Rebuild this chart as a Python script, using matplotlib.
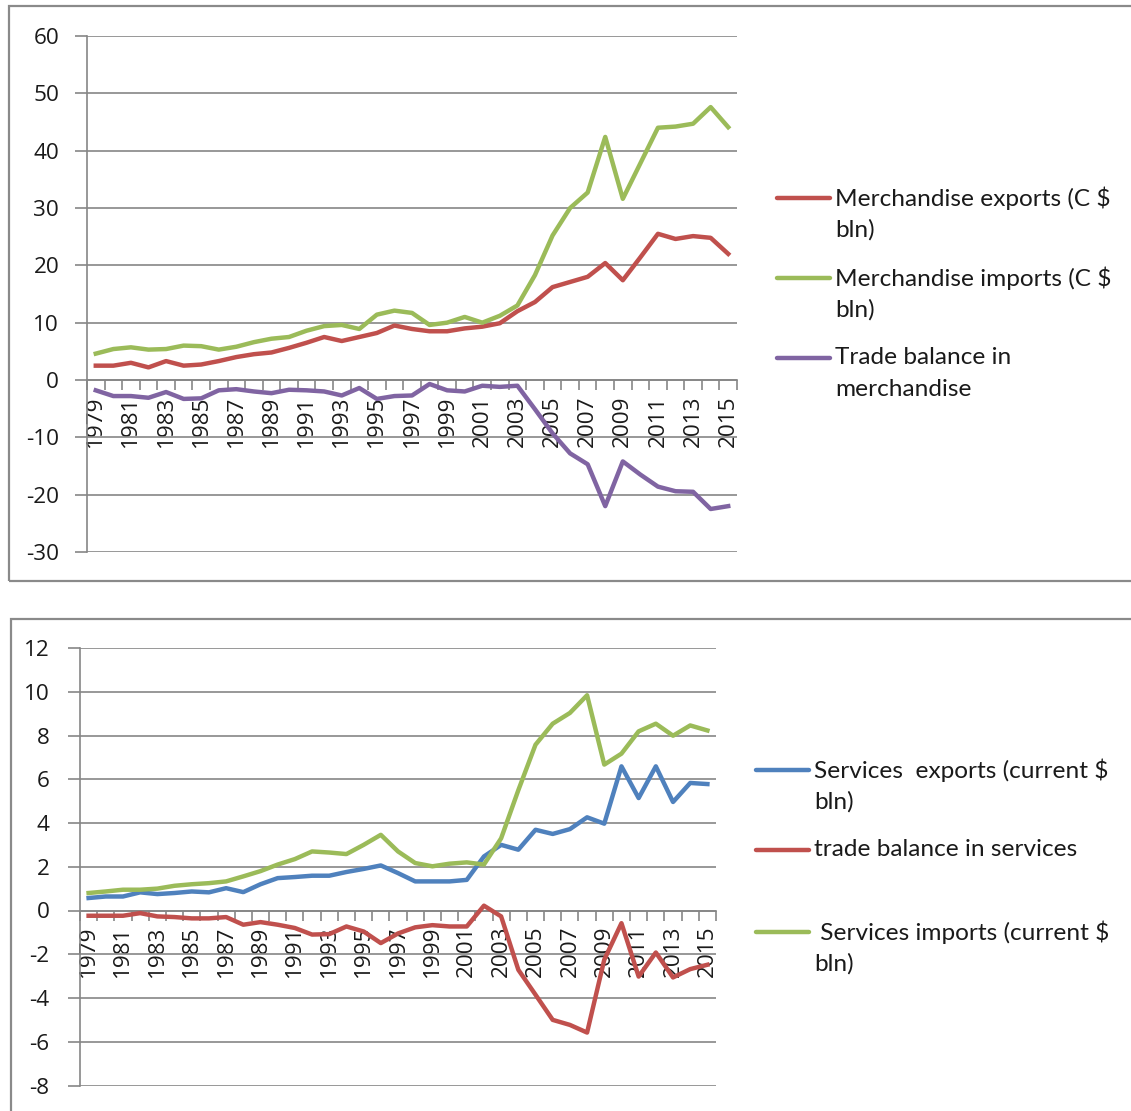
import matplotlib
matplotlib.use("Agg")
import matplotlib.pyplot as plt
import numpy as np
from matplotlib.lines import Line2D
from matplotlib.patches import Rectangle

plt.rcParams['font.family'] = ['Lato', 'DejaVu Sans']
plt.rcParams['axes.unicode_minus'] = False

years = list(range(1979, 2016))

# merchandise trade, C $ bln
merch_exports = [2.5, 2.5, 3.0, 2.2, 3.3, 2.5, 2.7, 3.3, 4.0, 4.5, 4.8, 5.6, 6.5, 7.5, 6.8, 7.5, 8.2, 9.5,
                 8.9, 8.5, 8.5, 9.0, 9.3, 9.9, 12.0, 13.6, 16.2, 17.1, 18.0, 20.4, 17.4, 21.4, 25.5, 24.6,
                 25.1, 24.8, 22.0]
merch_imports = [4.6, 5.4, 5.7, 5.3, 5.4, 6.0, 5.9, 5.3, 5.8, 6.6, 7.2, 7.5, 8.6, 9.4, 9.6, 8.9, 11.4, 12.1,
                 11.7, 9.6, 10.0, 11.0, 10.0, 11.2, 13.0, 18.3, 25.2, 30.0, 32.7, 42.4, 31.6, 37.8, 44.0,
                 44.2, 44.7, 47.6, 44.1]
merch_balance = [-1.8, -2.8, -2.8, -3.1, -2.1, -3.3, -3.2, -1.8, -1.6, -2.0, -2.3, -1.7, -1.8, -2.0, -2.7,
                 -1.4, -3.3, -2.8, -2.7, -0.7, -1.8, -2.0, -1.0, -1.2, -1.0, -5.1, -9.3, -12.8, -14.7,
                 -22.0, -14.2, -16.5, -18.6, -19.4, -19.5, -22.5, -22.0]

# services trade, current $ bln
serv_exports = [0.57, 0.64, 0.64, 0.83, 0.75, 0.80, 0.87, 0.83, 1.02, 0.84, 1.20, 1.48, 1.53, 1.59, 1.59,
                1.76, 1.90, 2.06, 1.71, 1.33, 1.33, 1.33, 1.40, 2.47, 3.00, 2.78, 3.69, 3.50, 3.72, 4.26,
                3.97, 6.59, 5.14, 6.59, 4.96, 5.83, 5.78]
serv_balance = [-0.24, -0.24, -0.24, -0.12, -0.27, -0.30, -0.36, -0.36, -0.30, -0.65, -0.53, -0.65, -0.80,
                -1.10, -1.08, -0.73, -0.96, -1.49, -1.05, -0.77, -0.67, -0.73, -0.73, 0.22, -0.27, -2.71,
                -3.85, -5.00, -5.23, -5.58, -2.25, -0.58, -3.02, -1.92, -3.06, -2.68, -2.48]
serv_imports = [0.80, 0.87, 0.95, 0.95, 1.00, 1.13, 1.20, 1.25, 1.33, 1.56, 1.80, 2.10, 2.35, 2.70, 2.65,
                2.58, 3.00, 3.46, 2.70, 2.17, 2.02, 2.14, 2.20, 2.10, 3.30, 5.50, 7.58, 8.54, 9.03, 9.84,
                6.67, 7.17, 8.19, 8.54, 7.99, 8.46, 8.23]

top_labels = ["Merchandise exports (C $\nbln)", "Merchandise imports (C $\nbln)",
              "Trade balance in\nmerchandise"]
bottom_labels = ["Services  exports (current $\nbln)", "trade balance in services",
                 " Services imports (current $\nbln)"]

RED, GREEN, PURPLE, BLUE = '#C0504D', '#9BBB59', '#8064A2', '#4F81BD'
GRID = '#868686'
TXT = '#1a1a1a'
TICK_FONT = ['Open Sans', 'DejaVu Sans']

W, H = 1131, 1111
fig = plt.figure(figsize=(W / 100, H / 100), dpi=100)

# chart frames (right/bottom edges run off the picture)
fig.add_artist(Rectangle((9 / W, 1 - 581 / H), 1.2, (581 - 6) / H, transform=fig.transFigure,
                         fill=False, ec='#8a8a8a', lw=1.6))
fig.add_artist(Rectangle((11 / W, -0.2), 1.2, 1 - 619 / H + 0.2, transform=fig.transFigure,
                         fill=False, ec='#8a8a8a', lw=1.6))


def px_axes(left, top, right, bottom):
    return fig.add_axes([left / W, 1 - bottom / H, (right - left) / W, (bottom - top) / H])


def style(ax, lo, hi, step, ypad):
    n = len(years)
    ax.set_axisbelow(True)
    ax.set_xlim(-0.5, n - 0.5)
    ax.set_ylim(lo, hi)
    yt = np.arange(lo, hi + step / 2, step)
    ax.set_yticks(yt)
    ax.set_yticklabels([str(int(v)) for v in yt], family=TICK_FONT)
    ax.grid(axis='y', color=GRID, lw=1.2)
    for s in ('top', 'right'):
        ax.spines[s].set_visible(False)
    ax.spines['left'].set_color(GRID)
    ax.spines['left'].set_linewidth(1.2)
    ax.spines['bottom'].set_position(('data', 0))
    ax.spines['bottom'].set_color(GRID)
    ax.spines['bottom'].set_linewidth(1.2)
    ax.set_xticks(range(0, n, 2))
    ax.set_xticklabels([str(y) for y in years[::2]], rotation=90, family=TICK_FONT)
    ax.set_xticks(np.arange(-0.5, n), minor=True)
    ax.tick_params(axis='x', which='major', length=0, pad=11, labelsize=16.2, labelcolor=TXT)
    ax.tick_params(axis='x', which='minor', length=7, color=GRID, width=1.2, direction='out')
    ax.tick_params(axis='y', length=9, color=GRID, width=1.2, pad=ypad, labelsize=16.2, labelcolor=TXT)


def legend(x0, x1, ys, labels, colors):
    for y, lab, c in zip(ys, labels, colors):
        fig.add_artist(Line2D([x0 / W, x1 / W], [1 - y / H, 1 - y / H], color=c, lw=3.2,
                              solid_capstyle='round', transform=fig.transFigure))
        for j, line in enumerate(lab.split('\n')):
            fig.text((x1 + 5) / W, 1 - (y + 32 * j) / H, line, fontsize=17.6, color=TXT,
                     va='center', ha='left')


x = np.arange(len(years))

ax1 = px_axes(87, 36, 737, 552)
ax1.plot(x, merch_exports, color=RED, lw=3.2, zorder=3)
ax1.plot(x, merch_imports, color=GREEN, lw=3.2, zorder=3)
ax1.plot(x, merch_balance, color=PURPLE, lw=3.2, zorder=3)
style(ax1, -30, 60, 10, 11)
legend(777, 830, [198, 278, 358], top_labels, [RED, GREEN, PURPLE])

ax2 = px_axes(80, 648, 716, 1085.5)
ax2.plot(x, serv_exports, color=BLUE, lw=3.2, zorder=3)
ax2.plot(x, serv_balance, color=RED, lw=3.2, zorder=3)
ax2.plot(x, serv_imports, color=GREEN, lw=3.2, zorder=3)
style(ax2, -8, 12, 2, 13)
legend(756, 809, [770, 850, 932], bottom_labels, [BLUE, RED, GREEN])

fig.savefig('out.png', dpi=100)
